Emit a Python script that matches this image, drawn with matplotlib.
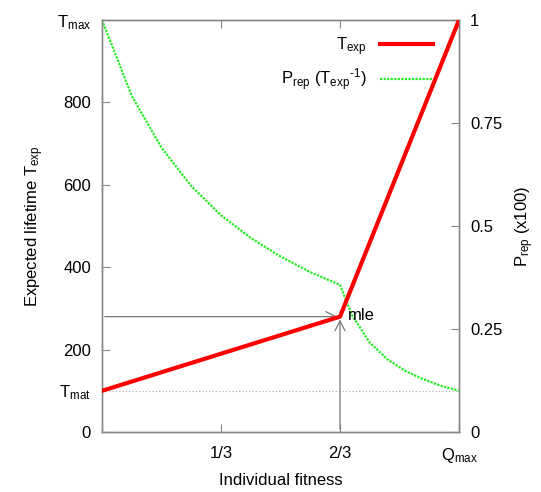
import matplotlib
matplotlib.use("Agg")
import matplotlib.pyplot as plt

plt.rcParams['font.family'] = ['Liberation Sans', 'DejaVu Sans']
plt.rcParams['mathtext.fontset'] = 'custom'
plt.rcParams['mathtext.rm'] = 'Liberation Sans'
plt.rcParams['mathtext.it'] = 'Liberation Sans'

# Data
fitness_texp = [0.0, 2/3, 1.0]
texp = [100, 280, 1000]

fitness_prep = [0.0, 0.0833, 0.1667, 0.25, 0.3333, 0.4167, 0.5, 0.5833, 0.6667,
                0.70, 0.75, 0.80, 0.85, 0.90, 0.95, 1.0]
prep = [1.0, 0.816, 0.690, 0.597, 0.526, 0.471, 0.426, 0.388, 0.357,
        0.284, 0.217, 0.176, 0.148, 0.128, 0.112, 0.10]

mle_x, mle_y = 2/3, 280
t_mat = 100

xticks = [1/3, 2/3, 1.0]
xticklabels = ['1/3', '2/3', r'Q$_{\mathrm{max}}$']
yticks = [0, 100, 200, 400, 600, 800, 1000]
yticklabels = ['0', r'T$_{\mathrm{mat}}$', '200', '400', '600', '800', r'T$_{\mathrm{max}}$']
y2ticks = [0, 0.25, 0.5, 0.75, 1.0]
y2ticklabels = ['0', '0.25', '0.5', '0.75', '1']

gray = '#888888'
fig = plt.figure(figsize=(5.41, 4.92), dpi=100)
ax = fig.add_axes([102/541, 1-432/492, 357/541, 412/492])
ax2 = ax.twinx()

ax.set_xlim(0, 1)
ax.set_ylim(0, 1000)
ax2.set_ylim(0, 1)

ax.axhline(t_mat, color='#aaaaaa', lw=0.8, ls=(0, (1, 2)), zorder=1)

l2, = ax2.plot(fitness_prep, prep, color='#22ee22', lw=1.6, ls=(0, (1, 0.6)),
               label=r'P$_{\mathrm{rep}}$ (T$_{\mathrm{exp}}$$^{\text{-1}}$)', zorder=3)
l1, = ax.plot(fitness_texp, texp, color='#ff0000', lw=3, label=r'T$_{\mathrm{exp}}$', zorder=4)
ax.set_zorder(ax2.get_zorder() + 1)
ax.patch.set_visible(False)

arrow = dict(arrowstyle='->', color='#777777', lw=0.9, mutation_scale=18)
ax.annotate('', xy=(mle_x, mle_y), xytext=(0, mle_y), arrowprops=arrow)
ax.annotate('', xy=(mle_x, mle_y), xytext=(mle_x, 0), arrowprops=arrow)
ax.text(mle_x + 0.022, mle_y + 2, 'mle', fontsize=12, va='center', ha='left')

ax.set_xticks(xticks)
ax.set_xticklabels(xticklabels, fontsize=12)
ax.set_yticks(yticks)
ax.set_yticklabels(yticklabels, fontsize=12)
ax2.set_yticks(y2ticks)
ax2.set_yticklabels(y2ticklabels, fontsize=12)

ax.tick_params(axis='both', direction='in', color=gray, length=6, width=0.8, pad=8, top=True)
ax.tick_params(axis='x', pad=10)
ax2.tick_params(axis='y', direction='in', color=gray, length=6, width=0.8, pad=8)
ticks = ax.yaxis.get_major_ticks()
ticks[1].tick1line.set_visible(False)
ticks[1].tick2line.set_visible(False)
for a in (ax, ax2):
    for s in a.spines.values():
        s.set_color(gray)
        s.set_linewidth(1.0)

ax.set_xlabel('Individual fitness', fontsize=12, labelpad=6)
ax.set_ylabel(r'Expected lifetime T$_{\mathrm{exp}}$', fontsize=12, labelpad=8)
ax2.set_ylabel(r'P$_{\mathrm{rep}}$ (x100)', fontsize=12, labelpad=8)

leg = ax.legend(handles=[l1, l2], loc='upper right', frameon=False, markerfirst=False,
                fontsize=12, handlelength=3.2, bbox_to_anchor=(0.97, 1.0), labelspacing=0.55)

fig.savefig('out.png', dpi=100)
